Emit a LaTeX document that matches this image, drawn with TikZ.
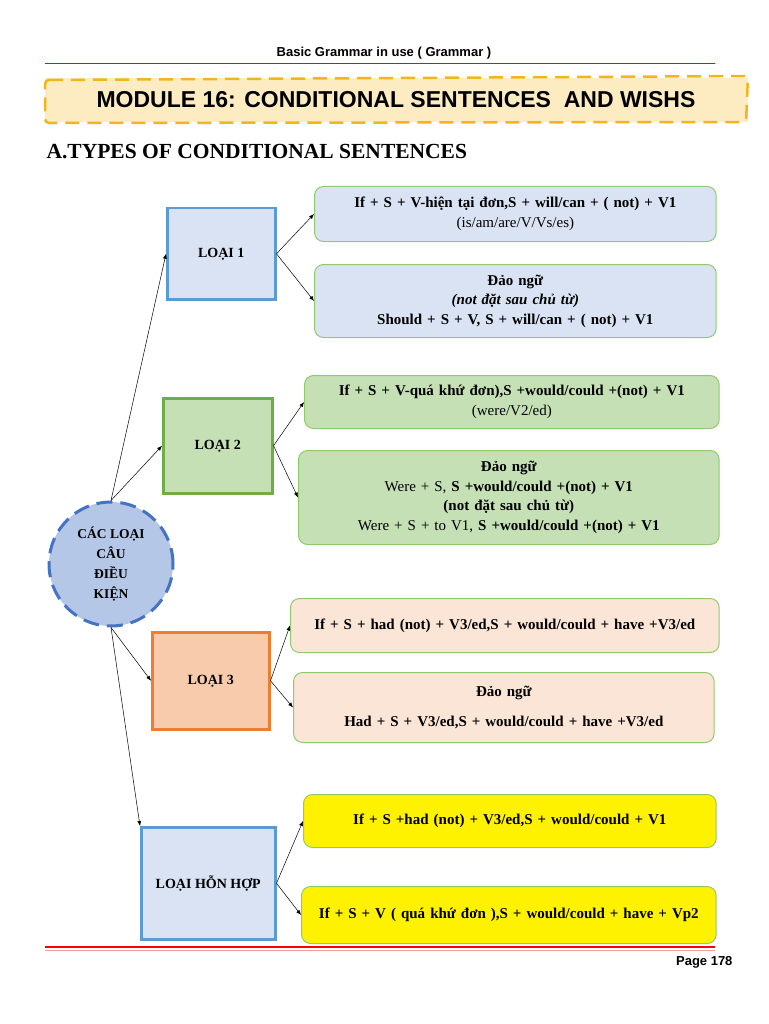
\documentclass[tikz,border=0pt]{standalone}
\usepackage{fontspec}
\setmainfont{Liberation Serif}
\newfontfamily\headsans{Liberation Sans}
\usetikzlibrary{positioning,arrows.meta}
\definecolor{lblue}{HTML}{DAE3F3}
\definecolor{lgreen}{HTML}{C5E0B4}
\definecolor{lorange}{HTML}{FBE5D6}
\definecolor{orangebox}{HTML}{F8CBAD}
\definecolor{cblue}{HTML}{B4C7E7}
\definecolor{bborder}{HTML}{5B9BD5}
\definecolor{cborder}{HTML}{4472C4}
\definecolor{gborder}{HTML}{70AD47}
\definecolor{oborder}{HTML}{ED7D31}
\definecolor{rborder}{HTML}{8FCB6A}
\definecolor{banner}{HTML}{FDEBC2}
\definecolor{dashy}{HTML}{F2B51C}

\begin{document}
\begin{tikzpicture}[x=1pt, y=-1pt,
    type/.style={draw, line width=2.5pt, font=\fontsize{14}{16}\selectfont\bfseries, align=center, anchor=north west},
    rule/.style={draw=rborder, line width=1pt, rounded corners=9pt, font=\fontsize{15}{19.5}\selectfont, align=center, anchor=north west},
    link/.style={-{Latex[length=5pt,width=4pt]}, line width=0.5pt}
  ]
\useasboundingbox (0,0) rectangle (768,1024);

% Page header
\node[font=\headsans\fontsize{13}{15}\selectfont\bfseries] (hdr) at (384,53) {Basic Grammar in use ( Grammar )};
\draw[red, line width=0.8pt] (45,63) -- (715,63);

% Module banner
\fill[banner] (45,78) rectangle (748,122);
\draw[dashy, line width=2.5pt, dash pattern=on 14pt off 8pt, rounded corners=4pt] (45,80) -- (748,76) -- (746,122) -- (45,123) -- cycle;
\node[font=\headsans\fontsize{23}{26}\selectfont\bfseries] (mod) at (396,100) {MODULE 16: CONDITIONAL SENTENCES \ AND WISHS};
\node[font=\fontsize{21.5}{24}\selectfont\bfseries, anchor=west] (sec) at (43,152) {A.TYPES OF CONDITIONAL SENTENCES};

% Central circle
\node[circle, draw=cborder, fill=cblue, line width=3pt, dash pattern=on 16pt off 8pt, minimum size=124pt, align=center, font=\fontsize{13.5}{20}\selectfont\bfseries] (root) at (111,564) {CÁC LOẠI\\CÂU\\ĐIỀU\\KIỆN};

% Types
\node[type, draw=bborder, fill=lblue, minimum width=108pt, minimum height=91pt] (t1) at (166,207) {LOẠI 1};
\node[type, draw=gborder, fill=lgreen, minimum width=109pt, minimum height=95pt] (t2) at (162,397) {LOẠI 2};
\node[type, draw=oborder, fill=orangebox, minimum width=117pt, minimum height=97pt] (t3) at (151,631) {LOẠI 3};
\node[type, draw=bborder, fill=lblue, minimum width=134pt, minimum height=112pt] (t4) at (140,826) {LOẠI HỖN HỢP};

% Rules
\node[rule, fill=lblue, text width=395pt, minimum height=55pt] (r1a) at (314,186) {\textbf{If + S + V-hiện tại đơn,S + will/can + ( not) + V1}\\(is/am/are/V/Vs/es)};
\node[rule, fill=lblue, text width=395pt, minimum height=73pt] (r1b) at (314,264) {\textbf{Đảo ngữ}\\\textbf{\textit{(not đặt sau chủ từ)}}\\\textbf{Should + S + V, S + will/can + ( not) + V1}};
\node[rule, fill=lgreen, text width=408pt, minimum height=53pt] (r2a) at (304,375) {\textbf{If + S + V-quá khứ đơn),S +would/could +(not) + V1}\\(were/V2/ed)};
\node[rule, fill=lgreen, text width=414pt, minimum height=94pt] (r2b) at (298,450) {\textbf{Đảo ngữ}\\Were + S, \textbf{S +would/could +(not) + V1}\\\textbf{(not đặt sau chủ từ)}\\Were + S + to V1, \textbf{S +would/could +(not) + V1}};
\node[rule, fill=lorange, text width=422pt, minimum height=54pt, font=\fontsize{15}{16}\selectfont\bfseries] (r3a) at (290,598) {If + S + had (not) + V3/ed,S + would/could + have +V3/ed\\[16pt]};
\node[rule, fill=lorange, text width=414pt, minimum height=70pt, font=\fontsize{15}{30}\selectfont\bfseries] (r3b) at (293,672) {Đảo ngữ\\Had + S + V3/ed,S + would/could + have +V3/ed};
\node[rule, fill=yellow, text width=406pt, minimum height=53pt, font=\fontsize{15}{16}\selectfont\bfseries] (r4a) at (303,794) {If + S +had (not) + V3/ed,S + would/could + V1\\[16pt]};
\node[rule, fill=yellow, text width=408pt, minimum height=57pt, font=\fontsize{15}{16}\selectfont\bfseries] (r4b) at (301,886) {If + S + V ( quá khứ đơn ),S + would/could + have + Vp2};

% Connectors
\draw[link] (root.north) -- (t1.west);
\draw[link] (root.north) -- (t2.west);
\draw[link] (root.south) -- (t3.west);
\draw[link] (root.south) -- (t4.north west);
\foreach \t/\a/\b in {t1/r1a/r1b, t2/r2a/r2b, t3/r3a/r3b, t4/r4a/r4b} {
  \draw[link] (\t.east) -- (\a.west);
  \draw[link] (\t.east) -- (\b.west);
}

% Footer
\draw[red, line width=2.5pt] (45,947) -- (715,947);
\draw[red!40, line width=1pt] (45,950) -- (715,950);
\node[font=\headsans\fontsize{13}{15}\selectfont\bfseries, anchor=east] (pg) at (736,962) {Page 178};
\end{tikzpicture}
\end{document}
